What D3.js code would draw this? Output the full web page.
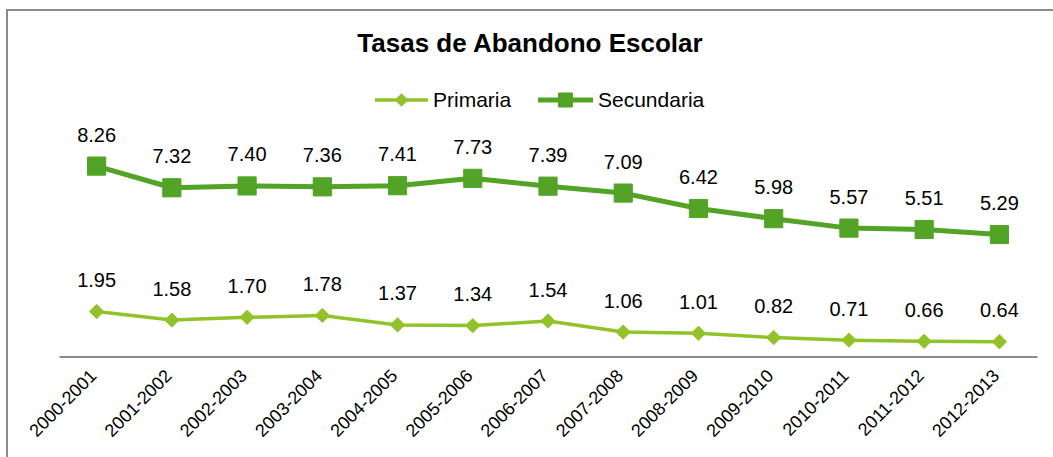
<!DOCTYPE html>
<html><head><meta charset="utf-8">
<script src="https://cdn.jsdelivr.net/npm/d3@7"></script>
<style>html,body{margin:0;padding:0;background:#fff;overflow:hidden}</style>
</head><body>
<svg id="c" width="1053" height="457"></svg>
<script>
const categories = ["2000-2001","2001-2002","2002-2003","2003-2004","2004-2005","2005-2006","2006-2007","2007-2008","2008-2009","2009-2010","2010-2011","2011-2012","2012-2013"];
const primaria = [1.95,1.58,1.70,1.78,1.37,1.34,1.54,1.06,1.01,0.82,0.71,0.66,0.64];
const secundaria = [8.26,7.32,7.40,7.36,7.41,7.73,7.39,7.09,6.42,5.98,5.57,5.51,5.29];
const seriesNames = ["Primaria","Secundaria"];
const title = "Tasas de Abandono Escolar";

const colPri = "#92c22a", colSec = "#52a326";
const font = "'Liberation Sans', Arial, sans-serif";
const svg = d3.select("#c");

// outer frame
svg.append("rect").attr("x",7).attr("y",10).attr("width",1100).attr("height",500)
  .attr("fill","none").attr("stroke","#8a8a8a").attr("stroke-width",2);

const x = d3.scaleBand().domain(categories).range([59,1037]);
const y = d3.scaleLinear().domain([0,10]).range([356.5,356.5-230.5]);

svg.append("text").attr("x",530).attr("y",52).attr("text-anchor","middle")
  .attr("font-family",font).attr("font-weight","bold").attr("font-size",26).text(title);

// axis
const ax = svg.append("g").attr("transform","translate(0,356.5)")
  .call(d3.axisBottom(x).tickSize(0).tickFormat(""));
ax.select(".domain").attr("stroke","#8a8a8a").attr("stroke-width",2);

svg.append("g").selectAll("text").data(categories).join("text")
  .attr("transform",d=>`translate(${x(d)+x.bandwidth()/2+1},${377}) rotate(-45)`)
  .attr("text-anchor","end").attr("font-family",font).attr("font-size",18).attr("fill","#000")
  .text(d=>d);

function drawSeries(vals, color, lw, shape, size){
  const pts = vals.map((v,i)=>({x:x(categories[i])+x.bandwidth()/2, y:y(v), v}));
  svg.append("path").datum(pts).attr("fill","none").attr("stroke",color).attr("stroke-width",lw)
    .attr("stroke-linejoin","round")
    .attr("d",d3.line().x(d=>d.x).y(d=>d.y));
  svg.append("g").selectAll("path").data(pts).join("path")
    .attr("transform",d=>`translate(${d.x},${d.y})`)
    .attr("d",d3.symbol().type(shape).size(size)).attr("fill",color)
    .attr("stroke",color).attr("stroke-width",1).attr("stroke-linejoin","round");
  svg.append("g").selectAll("text").data(pts).join("text")
    .attr("x",d=>d.x).attr("y",d=>d.y-24.5).attr("text-anchor","middle")
    .attr("font-family",font).attr("font-size",20).attr("fill","#000")
    .text(d=>d.v.toFixed(2));
}
drawSeries(primaria, colPri, 3.5, d3.symbolDiamond2, 130);
drawSeries(secundaria, colSec, 5, d3.symbolSquare2, 420);

// legend
const leg = [{name:seriesNames[0],c:colPri,lw:3.5,s:d3.symbolDiamond2,sz:100,x0:375,x1:428,tx:433},
             {name:seriesNames[1],c:colSec,lw:5,s:d3.symbolSquare2,sz:250,x0:538,x1:593,tx:598}];
const lg = svg.append("g");
leg.forEach(l=>{
  lg.append("line").attr("x1",l.x0).attr("x2",l.x1).attr("y1",100).attr("y2",100)
    .attr("stroke",l.c).attr("stroke-width",l.lw);
  lg.append("path").attr("transform",`translate(${(l.x0+l.x1)/2},100)`)
    .attr("d",d3.symbol().type(l.s).size(l.sz)).attr("fill",l.c).attr("stroke",l.c);
  lg.append("text").attr("x",l.tx).attr("y",107).attr("font-family",font).attr("font-size",21).text(l.name);
});
</script>
</body></html>
